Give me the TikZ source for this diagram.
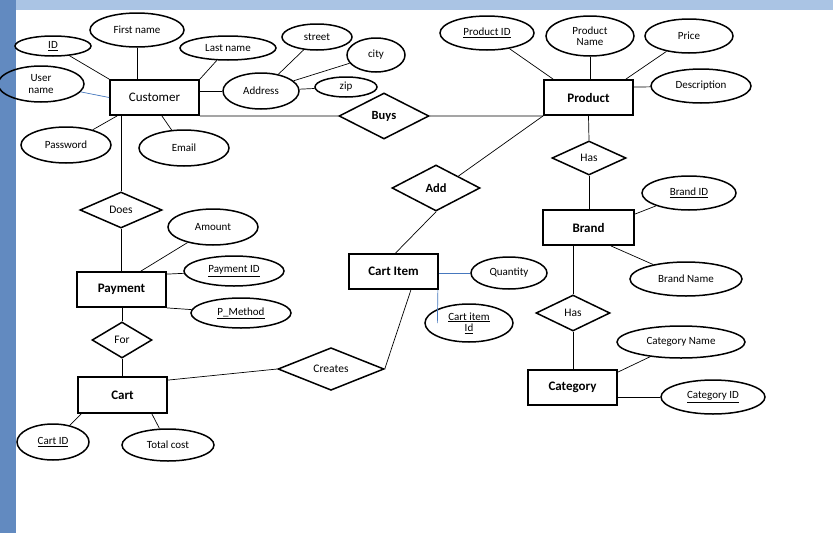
\documentclass[tikz,border=0pt]{standalone}
\usepackage{fontspec}
\setmainfont{Carlito}
\usetikzlibrary{shapes.geometric}
\definecolor{bgtop}{RGB}{170,196,228}
\definecolor{bgleft}{RGB}{98,138,192}
\definecolor{bluel}{RGB}{70,120,190}
\begin{document}
\begin{tikzpicture}[x=1pt,y=-1pt,
 att/.style={ellipse,draw,line width=1.5pt,inner sep=0pt,font=\fontsize{11}{11.5}\selectfont,align=center},
 ent/.style={rectangle,draw,line width=1.8pt,inner sep=0pt,font=\fontsize{13}{14}\selectfont},
 rel/.style={diamond,draw,line width=1.5pt,inner sep=0pt,font=\fontsize{11.5}{12}\selectfont},
 ln/.style={line width=0.7pt},
 bl/.style={line width=0.7pt,color=bluel}]
\fill[bgtop] (0,0) rectangle (833,533);
\fill[bgleft] (0,0) rectangle (16,533);
\fill[white] (16,10) rectangle (833,533);
\useasboundingbox (0,0) rectangle (833,533);
% customer
\node[ent,minimum width=89,minimum height=35] (cust) at (154.5,97.5) {Customer};
\node[att,minimum width=76,minimum height=20] (id) at (53,46) {\underline{ID}};
\node[att,minimum width=94,minimum height=34] (fn) at (137,30) {First name};
\node[att,minimum width=96,minimum height=24] (lnm) at (228,48) {Last name};
\node[att,minimum width=70,minimum height=26] (st) at (317,37) {street};
\node[att,minimum width=58,minimum height=34] (city) at (376,55) {city};
\node[att,minimum width=62,minimum height=20] (zip) at (346,87) {zip};
\node[att,minimum width=86,minimum height=36] (un) at (41,84) {User\\name};
\node[att,minimum width=76,minimum height=36] (addr) at (261,91) {Address};
\node[att,minimum width=90,minimum height=36] (pw) at (66,145) {Password};
\node[att,minimum width=90,minimum height=36] (em) at (184,148) {Email};
\node[rel,minimum width=90,minimum height=46,font=\fontsize{12.5}{13}\selectfont\bfseries] (buys) at (384,116) {Buys};
\node[rel,minimum width=82,minimum height=36] (does) at (121,210) {Does};
% payment
\node[ent,minimum width=89,minimum height=35,font=\fontsize{13}{14}\selectfont\bfseries] (pay) at (121.5,289.5) {Payment};
\node[att,minimum width=90,minimum height=36] (amt) at (213,227) {Amount};
\node[att,minimum width=100,minimum height=30] (pid) at (234,271) {\underline{Payment ID}};
\node[att,minimum width=100,minimum height=30] (pm) at (241,313) {\underline{P\_Method}};
\node[rel,minimum width=60,minimum height=36] (for) at (122,340) {For};
\node[ent,minimum width=89,minimum height=36,font=\fontsize{13}{14}\selectfont\bfseries] (cart) at (122.5,395) {Cart};
\node[rel,minimum width=106,minimum height=36] (cr) at (331,369) {Creates};
\node[att,minimum width=72,minimum height=36] (cid) at (53,442) {\underline{Cart ID}};
\node[att,minimum width=92,minimum height=32] (tc) at (168,445) {Total cost};
% cart item
\node[ent,minimum width=89,minimum height=35,font=\fontsize{13}{14}\selectfont\bfseries] (ci) at (393.5,271.5) {Cart Item};
\node[att,minimum width=76,minimum height=32] (qty) at (509,273) {Quantity};
\node[att,minimum width=88,minimum height=38] (ciid) at (469,323) {\underline{Cart item}\\\underline{Id}};
\node[rel,minimum width=88,minimum height=46,font=\fontsize{12.5}{13}\selectfont\bfseries] (add) at (436,188) {Add};
% product
\node[ent,minimum width=89,minimum height=35,font=\fontsize{13}{14}\selectfont\bfseries] (prod) at (588.5,97.5) {Product};
\node[att,minimum width=94,minimum height=34] (prid) at (487,33) {\underline{Product ID}};
\node[att,minimum width=88,minimum height=40] (prn) at (590,36) {Product\\Name};
\node[att,minimum width=88,minimum height=34] (price) at (689,36) {Price};
\node[att,minimum width=100,minimum height=34] (desc) at (701,86) {Description};
\node[rel,minimum width=74,minimum height=34] (has1) at (589,158) {Has};
\node[ent,minimum width=91,minimum height=35,font=\fontsize{13}{14}\selectfont\bfseries] (brand) at (588.5,227.5) {Brand};
\node[att,minimum width=94,minimum height=34] (bid) at (689,193) {\underline{Brand ID}};
\node[att,minimum width=112,minimum height=34] (bn) at (686,279) {Brand Name};
\node[rel,minimum width=74,minimum height=36] (has2) at (573,313) {Has};
\node[ent,minimum width=89,minimum height=35,font=\fontsize{13}{14}\selectfont\bfseries] (cat) at (572.5,387.5) {Category};
\node[att,minimum width=128,minimum height=32] (cn) at (681,342) {Category Name};
\node[att,minimum width=104,minimum height=34] (catid) at (713,397) {\underline{Category ID}};
% connectors
\draw[ln] (id) -- (cust.north west);
\draw[ln] (fn) -- (cust.north west -| fn);
\draw[ln] (lnm) -- (cust.north east);
\draw[bl] (un) -- (cust.west);
\draw[ln] (cust.east |- addr) -- (addr);
\draw[ln] (st) -- (addr); \draw[ln] (city) -- (addr); \draw[ln] (zip) -- (addr);
\draw[ln] (pw) -- ([xshift=8]cust.south west);
\draw[ln] (em) -- ([xshift=-38]cust.south east);
\draw[ln] (cust.south east) -- (buys.west);
\draw[ln] (buys.east) -- (prod.south west);
\draw[ln] (does.north |- cust.south) -- (does.north);
\draw[ln] (does.south) -- (does.south |- pay.north);
\draw[ln] (amt) -- ([xshift=-26]pay.north east);
\draw[ln] (pid) -- ([yshift=-3]pay.north east);
\draw[ln] (pm) -- (pay.south east);
\draw[ln] (for.north |- pay.south) -- (for.north);
\draw[ln] (for.south) -- (for.south |- cart.north);
\draw[ln] (cid) -- ([xshift=4]cart.south west);
\draw[ln] (tc) -- ([xshift=-16]cart.south east);
\draw[ln] ([yshift=-4]cart.north east) -- (cr.west);
\draw[ln] (cr.east) -- ([xshift=-28]ci.south east);
\draw[ln] ([xshift=2]ci.north) -- (add.south);
\draw[ln] (add.north east) -- (prod.south west);
\draw[bl] (qty) -- (ci.east |- qty);
\draw[bl] ([xshift=-1]ci.south east) -- (ciid.north west |- ciid.west);
\draw[ln] (prid) -- ([xshift=10]prod.north west);
\draw[ln] (prn) -- (prn |- prod.north);
\draw[ln] (price) -- ([xshift=-8]prod.north east);
\draw[ln] (desc) -- ([yshift=-8]prod.north east);
\draw[ln] (prod.south) -- (has1.north);
\draw[ln] (has1.south) -- (has1.south |- brand.north);
\draw[ln] (bid) -- ([yshift=-5]brand.north east);
\draw[ln] (bn) -- ([xshift=-24]brand.south east);
\draw[ln] (has2.north |- brand.south) -- (has2.north);
\draw[ln] (has2.south) -- (has2.south |- cat.north);
\draw[ln] (cn) -- ([yshift=-3]cat.north east);
\draw[ln] (catid) -- (cat.east |- catid);
\end{tikzpicture}
\end{document}
